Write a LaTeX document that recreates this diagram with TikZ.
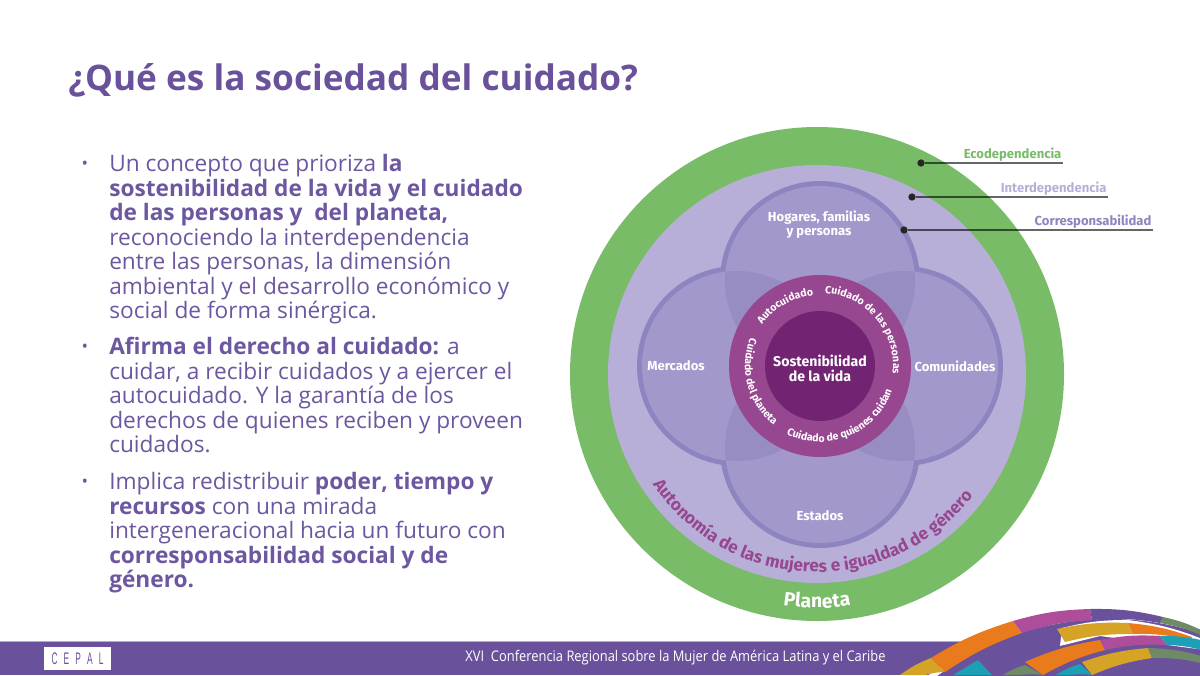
\documentclass[tikz,border=0pt]{standalone}
\usepackage{fontspec}
\setmainfont{Open Sans}
\newfontfamily\diagfont{Fira Sans}
\newfontfamily\footfont[FakeStretch=0.88]{Open Sans}
\newfontfamily\logofont[FakeStretch=0.5]{Liberation Sans}
\usetikzlibrary{decorations.text}
\definecolor{slidepurple}{HTML}{6A519B}
\definecolor{bodypurple}{HTML}{6C57A0}
\definecolor{planetgreen}{HTML}{79BC67}
\definecolor{lavender}{HTML}{B8AFD8}
\definecolor{petal}{HTML}{A398CB}
\definecolor{petaldark}{HTML}{978DC3}
\definecolor{petaledge}{HTML}{8E85C0}
\definecolor{ringmagenta}{HTML}{964790}
\definecolor{coredark}{HTML}{722473}
\definecolor{bandorange}{HTML}{EA7B1C}
\definecolor{bandmagenta}{HTML}{AE4E9B}
\definecolor{bandyellow}{HTML}{D5A325}
\definecolor{bandteal}{HTML}{1DA0B5}
\definecolor{bandgreen}{HTML}{6F8B66}
\newcommand{\ringfont}{\diagfont\bfseries\fontsize{7.9pt}{10pt}\selectfont}
\newcommand{\bandseg}[5]{\fill [#1] (#2) to [bend left=7] (#3) -- (#4) to [bend right=7] (#5) -- cycle;}
\tikzset{
  bodytext/.style={anchor=north west, align=left, text=bodypurple, font=\fontsize{17pt}{18.4pt}\selectfont},
  bullet/.style={text=bodypurple, font=\fontsize{13pt}{15pt}\selectfont},
  circlelabel/.style={text=white, align=center, font=\diagfont\bfseries\fontsize{9.8pt}{10.6pt}\selectfont},
  ringtext/.style={decorate, decoration={text along path, text align=center, text color=white, text={|\ringfont|#1}}},
  sidelabel/.style={anchor=south east, inner sep=1pt, font=\diagfont\bfseries\fontsize{9.8pt}{10pt}\selectfont},
  leader/.style={draw=black, draw opacity=0.6, line width=0.8pt},
  leaderdot/.style={circle, fill=black!85, inner sep=0pt, minimum size=5.5pt}
}
\begin{document}
\begin{tikzpicture}[x=0.75pt, y=-0.75pt]
\useasboundingbox (0,0) rectangle (1200,675);
\fill [white] (0,0) rectangle (1200,675);

\node [anchor=base west, inner sep=0pt, text=slidepurple, font=\bfseries\fontsize{26.4pt}{30pt}\selectfont] (title) at (68,90) {¿Qué es la sociedad del cuidado?};

% left column
\node [bullet] (dotone) at (85,165) {•};
\node [bodytext, inner sep=0pt] (textone) at (109,154) {Un concepto que prioriza \textbf{la}\\\textbf{sostenibilidad de la vida y el cuidado}\\\textbf{de las personas y\ \ del planeta,}\\reconociendo la interdependencia\\entre las personas, la dimensión\\ambiental y el desarrollo económico y\\social de forma sinérgica.};
\node [bullet] (dottwo) at (85,348) {•};
\node [bodytext, inner sep=0pt] (texttwo) at (109,337) {\textbf{Afirma el derecho al cuidado:} a\\cuidar, a recibir cuidados y a ejercer el\\autocuidado. Y la garantía de los\\derechos de quienes reciben y proveen\\cuidados.};
\node [bullet] (dotthree) at (85,483) {•};
\node [bodytext, inner sep=0pt] (textthree) at (109,472) {Implica redistribuir \textbf{poder, tiempo y}\\\textbf{recursos} con una mirada\\intergeneracional hacia un futuro con\\\textbf{corresponsabilidad social y de}\\\textbf{género.}};

% circles
\coordinate (big) at (817,374);
\coordinate (mid) at (820,366);
\coordinate (hogares) at (820,281);
\coordinate (mercados) at (737,366);
\coordinate (comunidades) at (903,366);
\coordinate (estados) at (820,448);
\fill [planetgreen] (big) circle (247);
\fill [lavender] (big) circle (209);
\foreach \c in {hogares,mercados,comunidades,estados}
  \fill [petaledge] (\c) circle (100);
\foreach \c in {hogares,mercados,comunidades,estados}
  \fill [petal] (\c) circle (95);
\foreach \a/\b in {hogares/mercados,hogares/comunidades,estados/mercados,estados/comunidades}{
  \begin{scope}
    \clip (\a) circle (95);
    \fill [petaldark] (\b) circle (95);
  \end{scope}
}
\fill [ringmagenta] (mid) circle (91);
\fill [coredark] (mid) circle (55);

\node [circlelabel] (hogareslabel) at (819,225) {Hogares, familias\\y personas};
\node [circlelabel] (mercadoslabel) at (676,366) {Mercados};
\node [circlelabel] (comunidadeslabel) at (955,366) {Comunidades};
\node [circlelabel] (estadoslabel) at (820,516) {Estados};
\node [circlelabel, font=\diagfont\bfseries\fontsize{10.6pt}{11.4pt}\selectfont] (corelabel) at (820,368) {Sostenibilidad\\de la vida};

% curved labels
\path [ringtext={Autocuidado}] (mid) ++(-155:71) arc [start angle=-155, end angle=-85, radius=71];
\path [ringtext={Cuidado de las personas}] (mid) ++(-95:73) arc [start angle=-95, end angle=15, radius=73];
\path [ringtext={Cuidado de quienes cuidan}] (mid) ++(-222:76) arc [start angle=-222, end angle=-363, radius=76];
\path [ringtext={Cuidado del planeta}] (mid) ++(-145:75) arc [start angle=-145, end angle=-245, radius=75];
\path [decorate, decoration={text along path, text align=center, text color=ringmagenta, text={|\diagfont\bfseries\fontsize{12.9pt}{15pt}\selectfont|Autonomía de las mujeres e igualdad de género}}] (big) ++(-205:198) arc [start angle=-205, end angle=-331, radius=198];
\path [decorate, decoration={text along path, text align=center, text color=white, text={|\diagfont\bfseries\fontsize{14.5pt}{16pt}\selectfont|Planeta}}] (big) ++(-250:234) arc [start angle=-250, end angle=-290, radius=234];

% side labels
\node [leaderdot] (ecodot) at (921,163) {};
\node [leaderdot] (interdot) at (912,197) {};
\node [leaderdot] (corresdot) at (904,230) {};
\coordinate (ecoend) at (1063,163);
\coordinate (interend) at (1108,197);
\coordinate (corresend) at (1153,230);
\draw [leader] (ecodot) -- (ecoend);
\draw [leader] (interdot) -- (interend);
\draw [leader] (corresdot) -- (corresend);
\node [sidelabel, text=planetgreen] (ecolabel) at (ecoend) {Ecodependencia};
\node [sidelabel, text=lavender] (interlabel) at (interend) {Interdependencia};
\node [sidelabel, text=petaledge] (correslabel) at (corresend) {Corresponsabilidad};

% footer
\fill [black!30] (0,641) rectangle (1200,642);
\fill [slidepurple] (0,642) rectangle (1200,675);
\begin{scope}
  \clip (0,0) rectangle (1200,675);
  \fill [white] (1110,909) circle (296);
  \fill [slidepurple] (1110,909) circle (290);
  \fill [slidepurple] (945,642) -- (1015,642) -- (1057,629) -- (1200,629) -- (1200,675) -- (945,675) -- cycle;
  \bandseg{bandyellow}{900,675}{931,658}{945,672}{925,675}
  \bandseg{bandorange}{931,658}{1013,621}{1022,633}{945,672}
  \bandseg{bandmagenta}{1013,621}{1090,609}{1092,620}{1022,633}
  \bandseg{slidepurple}{1090,609}{1163,617}{1160,623}{1092,620}
  \bandseg{bandgreen}{1163,617}{1205,632}{1205,637}{1160,623}
  \fill [white] (1062,628) to [bend left=7] (1128,620) to [bend left=7] (1205,640) -- (1205,650) -- (1100,636) -- (1060,646) -- cycle;
  \fill [slidepurple] (1060,646) -- (1100,640) -- (1200,650) -- (1200,675) -- (1040,675) -- cycle;
  \bandseg{bandyellow}{1057,629}{1128,623}{1133,634}{1065,642}
  \bandseg{bandorange}{1128,623}{1192,637}{1190,640}{1133,634}
  \bandseg{bandgreen}{1003,675}{1025,665}{1043,675}{1020,675}
  \bandseg{bandorange}{1025,662}{1100,640}{1105,650}{1043,675}
  \bandseg{bandmagenta}{1100,640}{1160,636}{1167,645}{1105,650}
  \bandseg{bandteal}{1160,636}{1205,641}{1205,651}{1167,645}
  \bandseg{bandteal}{1056,675}{1080,664}{1092,675}{1070,675}
  \bandseg{bandyellow}{1082,662}{1148,648}{1152,658}{1092,675}
  \bandseg{bandgreen}{1148,648}{1205,657}{1205,664}{1152,658}
  \fill [bandteal] (953,675) -- (978,660) -- (992,675) -- cycle;
\end{scope}
\node [fill=white, minimum width=50.2pt, minimum height=17pt, inner sep=0pt, text=slidepurple, font=\logofont\fontsize{12.5pt}{14pt}\selectfont] (logo) at (77.5,658.5) {C\kern4.6pt E\kern4.6pt P\kern4.6pt A\kern4.6pt L};
\node [anchor=base, inner sep=0pt, text=white, font=\footfont\fontsize{11pt}{13pt}\selectfont] (footertext) at (675.5,661) {XVI\ \ Conferencia Regional sobre la Mujer de América Latina y el Caribe};
\end{tikzpicture}
\end{document}
